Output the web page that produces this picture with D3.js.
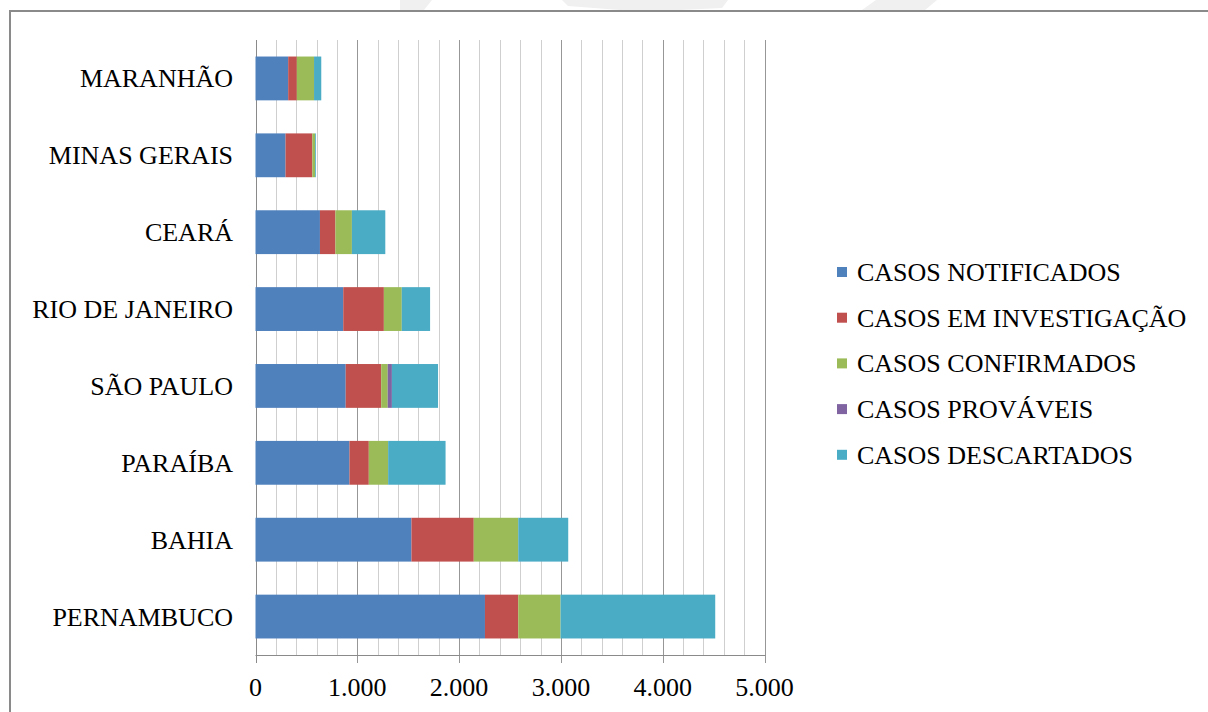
<!DOCTYPE html>
<html>
<head>
<meta charset="utf-8">
<script src="https://cdn.jsdelivr.net/npm/d3@7"></script>
</head>
<body style="margin:0">
<div id="c"></div>
<script>

////////////////////////////////////////////////////////////
// Data
////////////////////////////////////////////////////////////

let states = ['MARANHÃO', 'MINAS GERAIS', 'CEARÁ', 'RIO DE JANEIRO',
  'SÃO PAULO', 'PARAÍBA', 'BAHIA', 'PERNAMBUCO']

let series_names = ['CASOS NOTIFICADOS', 'CASOS EM INVESTIGAÇÃO',
  'CASOS CONFIRMADOS', 'CASOS PROVÁVEIS', 'CASOS DESCARTADOS']

let notificados = [321, 295, 633, 862, 886, 923, 1532, 2254]
let investigacao = [85, 263, 152, 399, 349, 190, 612, 327]
let confirmados = [169, 27, 162, 176, 64, 190, 437, 416]
let provaveis = [0, 0, 0, 0, 41, 0, 0, 0]
let descartados = [71, 8, 328, 278, 453, 564, 491, 1519]

let x_ticks = [0, 1000, 2000, 3000, 4000, 5000]
let x_tick_labels = ['0', '1.000', '2.000', '3.000', '4.000', '5.000']

let colors = ['#4F81BD', '#C0504D', '#9BBB59', '#8064A2', '#4BACC6']

////////////////////////////////////////////////////////////
// Layout
////////////////////////////////////////////////////////////

let svg = d3.select('#c')
  .append('svg')
  .attr('width', 1208)
  .attr('height', 712)
  .style('display', 'block')

// faint watermark peeking above the frame
let wm = [
  [[400, 0], [432, 0], [424, 10], [400, 10]],
  [[562, 0], [728, 0], [722, 8], [680, 10], [620, 10], [568, 6]],
  [[876, 0], [937, 0], [925, 10], [862, 10]]
]
svg.selectAll('.wm')
  .data(wm)
  .enter()
  .append('polygon')
    .attr('class', 'wm')
    .attr('points', d => d.map(p => p.join(',')).join(' '))
    .attr('fill', '#f0f0f0')

// chart frame
svg.append('rect')
  .attr('x', 10)
  .attr('y', 11)
  .attr('width', 1230)
  .attr('height', 730)
  .attr('fill', '#fff')
  .attr('stroke', '#8a8a8a')
  .attr('stroke-width', 2)

////////////////////////////////////////////////////////////
// Scales
////////////////////////////////////////////////////////////

let x_scale = d3.scaleLinear()
  .domain([0, 5000])
  .range([255.5, 764.5])

let y_scale = d3.scaleBand()
  .domain(states)
  .range([40, 655])
  .paddingInner(0.43)
  .paddingOuter(0.215)

let table = states.map((s, i) => ({
  state: s,
  s0: notificados[i],
  s1: investigacao[i],
  s2: confirmados[i],
  s3: provaveis[i],
  s4: descartados[i]
}))

let layers = d3.stack().keys(['s0', 's1', 's2', 's3', 's4'])(table)

////////////////////////////////////////////////////////////
// Grid
////////////////////////////////////////////////////////////

let minor = d3.range(0, 5001, 200).filter(v => v % 1000 != 0)

svg.selectAll('.minor')
  .data(minor)
  .enter()
  .append('line')
    .attr('class', 'minor')
    .attr('x1', d => Math.round(x_scale(d)) + 0.5)
    .attr('x2', d => Math.round(x_scale(d)) + 0.5)
    .attr('y1', 40)
    .attr('y2', 655)
    .attr('stroke', '#cfcfcf')

svg.selectAll('.major')
  .data(x_ticks)
  .enter()
  .append('line')
    .attr('class', 'major')
    .attr('x1', d => Math.round(x_scale(d)) + 0.5)
    .attr('x2', d => Math.round(x_scale(d)) + 0.5)
    .attr('y1', 40)
    .attr('y2', 663)
    .attr('stroke', (d, i) => i == 0 ? '#8a8a8a' : '#979797')

////////////////////////////////////////////////////////////
// Bars
////////////////////////////////////////////////////////////

svg.append('g')
  .selectAll('g')
  .data(layers)
  .enter()
  .append('g')
    .attr('fill', (d, i) => colors[i])
  .selectAll('rect')
  .data(d => d)
  .enter()
  .append('rect')
    .attr('x', d => x_scale(d[0]))
    .attr('y', d => y_scale(d.data.state))
    .attr('width', d => x_scale(d[1]) - x_scale(d[0]))
    .attr('height', y_scale.bandwidth())

////////////////////////////////////////////////////////////
// Axes
////////////////////////////////////////////////////////////

svg.append('line')
  .attr('x1', x_scale(0))
  .attr('x2', Math.round(x_scale(5000)) + 0.5)
  .attr('y1', 655.5)
  .attr('y2', 655.5)
  .attr('stroke', '#8a8a8a')

svg.selectAll('.xlab')
  .data(x_ticks)
  .enter()
  .append('text')
    .attr('class', 'xlab')
    .attr('x', d => x_scale(d))
    .attr('y', 696)
    .attr('text-anchor', 'middle')
    .style('font-family', d => "'Tinos'")
    .attr('font-size', 26)
    .attr('fill', '#000')
    .text((d, i) => x_tick_labels[i])

svg.selectAll('.ylab')
  .data(states)
  .enter()
  .append('text')
    .attr('class', 'ylab')
    .attr('x', 233)
    .attr('y', d => y_scale(d) + y_scale.bandwidth() / 2 + 9)
    .attr('text-anchor', 'end')
    .style('font-family', d => "'Tinos'")
    .attr('font-size', 26)
    .attr('fill', '#000')
    .text(d => d)

////////////////////////////////////////////////////////////
// Legend
////////////////////////////////////////////////////////////

svg.selectAll('.lkey')
  .data(series_names)
  .enter()
  .append('rect')
    .attr('class', 'lkey')
    .attr('x', 837)
    .attr('y', (d, i) => 267 + i * 45.7)
    .attr('width', 10)
    .attr('height', 10)
    .attr('fill', (d, i) => colors[i])

svg.selectAll('.ltxt')
  .data(series_names)
  .enter()
  .append('text')
    .attr('class', 'ltxt')
    .attr('x', 857)
    .attr('y', (d, i) => 281 + i * 45.7)
    .style('font-family', d => "'Tinos'")
    .attr('font-size', 26)
    .attr('fill', '#000')
    .text(d => d)

</script>
</body>
</html>
